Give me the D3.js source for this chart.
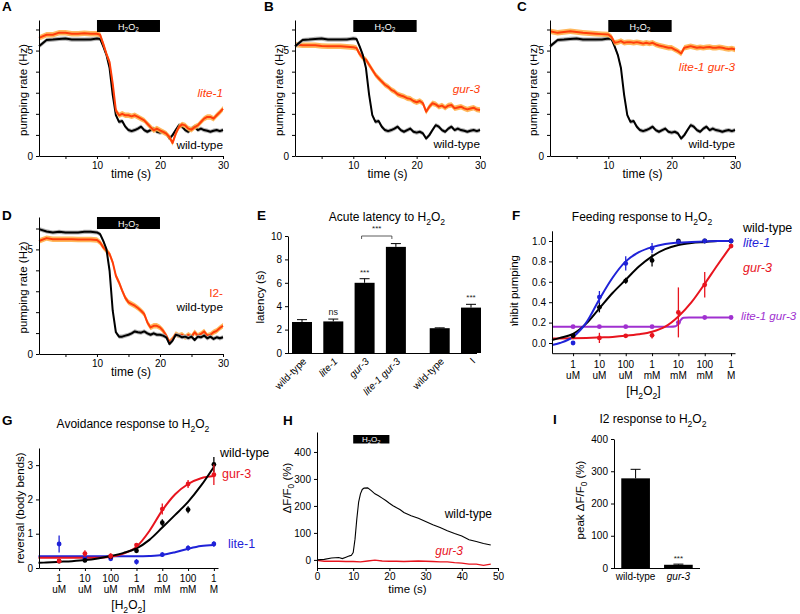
<!DOCTYPE html>
<html><head><meta charset="utf-8">
<script src="https://cdn.jsdelivr.net/npm/d3@7"></script>
<style>body{margin:0;background:#fff}svg{display:block}</style>
</head><body><svg id="c" width="800" height="614"></svg>
<script>
// ---------------- DATA ----------------
// Panels A-D: pumping-rate traces (Hz) sampled at these times (s)
const TRACE_T = [0.8,2,3,4,5,6,7,8,9,10,10.5,11,11.5,12,12.5,13,13.5,14,14.5,15,15.5,16,16.5,17,17.5,18,18.5,19,19.5,20,20.5,21,21.5,22,22.5,23,23.5,24,24.5,25,25.5,26,26.5,27,27.5,28,28.5,29,29.5,30];
const HZ_WT = [5.2,5.5,5.52,5.55,5.57,5.52,5.52,5.52,5.53,
  5.57,5.55,5.2,4.8,4.17,2.9,1.94,1.62,1.66,1.39,
  1.23,1.18,1.23,1.3,1.39,1.23,1.15,1.23,1.3,1.15,
  1.11,1.15,1.07,0.83,0.99,1.23,1.46,1.39,1.23,1.15,
  1.3,1.39,1.23,1.3,1.23,1.2,1.15,1.2,1.23,1.18,1.23];
const HZ_LITE1 = [5.6,5.75,5.75,5.85,5.85,5.8,5.8,5.82,5.8,
  5.8,5.75,5.32,4.85,4.45,3.43,2.16,1.93,2.0,1.93,
  1.93,1.88,1.93,1.85,1.77,1.69,1.53,1.37,1.22,1.3,
  1.22,1.14,1.06,0.9,0.62,1.06,1.37,1.5,1.45,1.3,
  1.25,1.37,1.45,1.61,1.77,1.85,1.85,1.77,1.93,2.08,2.24];
const HZ_GUR3 = [5.29,5.25,5.25,5.25,5.22,5.2,5.2,5.2,5.18,
  5.16,5.12,4.84,4.65,4.57,4.33,4.09,3.85,3.69,3.53,
  3.38,3.28,3.14,3.06,2.93,2.87,2.82,2.74,2.71,2.61,
  2.55,2.61,2.5,2.1,2.34,2.5,2.45,2.34,2.39,2.29,
  2.39,2.42,2.26,2.3,2.34,2.26,2.21,2.25,2.29,2.2,2.18];
const HZ_LITE1GUR3 = [5.92,5.84,5.88,5.92,5.88,5.84,5.82,5.8,5.78,
  5.76,5.65,5.37,5.4,5.45,5.37,5.4,5.4,5.37,5.4,
  5.37,5.33,5.37,5.33,5.37,5.29,5.24,5.21,5.17,5.13,
  5.13,5.05,4.97,4.86,5.13,5.17,5.21,5.17,5.13,5.16,
  5.13,5.16,5.17,5.13,5.13,5.16,5.13,5.1,5.08,5.1,5.05];
const HZ_WT_D = [5.97,5.86,5.81,5.84,5.81,5.81,5.81,5.84,5.84,
  5.81,5.73,5.41,5.02,3.98,2.07,1.04,0.83,0.83,0.88,
  0.92,0.99,1.08,1.04,1.02,1.08,0.99,0.92,0.99,0.92,
  0.92,0.88,0.8,0.48,0.64,0.92,0.88,0.8,0.83,0.76,
  0.83,0.67,0.83,0.8,0.88,0.75,0.83,0.72,0.8,0.75,0.8];
const HZ_I2 = [5.4,5.54,5.49,5.49,5.49,5.49,5.47,5.47,5.47,
  5.45,5.33,5.1,4.94,4.78,4.38,3.74,3.42,3.03,2.68,
  2.47,2.39,2.31,2.2,2.07,1.91,1.51,1.27,1.35,1.35,
  1.27,1.11,0.88,0.56,0.72,0.96,0.88,0.92,0.8,0.92,
  0.83,1.04,0.88,0.96,1.08,0.88,0.92,1.04,1.11,1.24,1.35];
const SEM_BLACK = 0.1, SEM_RED = 0.13;
const HZ_TICKS = [0,1,2,3,4,5,6], HZ_LABELED = [0,5];
const TIME_TICKS = [5,10,15,20,25,30], TIME_LABELED = [10,20,30];
const STIM = [10,20];

// Panel E: acute latency (s)
const LAT_CATS = ["wild-type","lite-1","gur-3","lite-1 gur-3","wild-type","I"];
const LAT_ITALIC = [false,true,true,true,false,false];
const LAT_GROUP = [0,0,0,0,1,1];
const LAT_VAL = [2.65,2.7,6.0,9.07,2.12,3.88];
const LAT_ERR = [0.2,0.2,0.35,0.28,0.03,0.28];
const LAT_SIG = ["","ns","***","","","***"];
const LAT_TICKS = [0,2,4,6,8,10];

// Panels F, G: concentration axis (log10 M)
const CONC_LOG = [-6,-5,-4,-3,-2,-1,0];
const CONC_NUM = ["1","10","100","1","10","100","1"];
const CONC_UNIT = ["uM","uM","uM","mM","mM","mM","M"];

// Panel F: feeding response (fraction inhibited)
const FEED_WT = [0.07,0.35,0.61,0.81,1.0,1.0,1.0];
const FEED_WT_ERR = [0.01,0.05,0.03,0.06,0.01,0.01,0.01];
const FEED_LITE1 = [0.0,0.45,0.78,0.93,0.99,1.0,1.0];
const FEED_LITE1_ERR = [0.01,0.06,0.07,0.05,0.01,0.01,0.01];
const FEED_GUR3 = [0.06,0.05,0.07,0.075,0.30,0.57,0.95];
const FEED_GUR3_ERR = [0.01,0.05,0.01,0.03,0.245,0.125,0.01];
const FEED_LG = [0.16,0.16,0.16,0.16,0.2,0.25,0.25];
const FEED_LG_ERR = [0.01,0.01,0.01,0.01,0.01,0.01,0.01];
const FIT_X = [-6.8,-6.5,-6,-5.5,-5,-4.5,-4,-3.5,-3,-2.5,-2,-1.5,-1,-0.5,0];
const FEED_FIT_WT = [0.03,0.05,0.09,0.19,0.34,0.49,0.62,0.75,0.85,0.92,0.96,0.98,0.99,1.0,1.0];
const FEED_FIT_LITE1 = [-0.02,0.0,0.06,0.2,0.43,0.64,0.8,0.89,0.94,0.97,0.985,0.99,0.995,1.0,1.0];
const FEED_FIT_GUR3 = [0.045,0.045,0.047,0.05,0.055,0.06,0.07,0.085,0.11,0.16,0.26,0.4,0.58,0.77,0.95];
const FEED_FIT_LG_X = [-6.8,-2.3,-2.1,-2.0,-1.95,-1.9,-1.8,-1.6,0];
const FEED_FIT_LG = [0.16,0.16,0.165,0.19,0.21,0.23,0.248,0.25,0.25];
const FEED_TICKS = [0,0.2,0.4,0.6,0.8,1.0];

// Panel G: avoidance (body bends)
const AVOID_WT = [0.2,0.22,0.33,0.5,1.32,1.7,3.02];
const AVOID_WT_ERR = [0.03,0.05,0.05,0.06,0.1,0.1,0.22];
const AVOID_GUR3 = [0.2,0.42,0.35,0.67,1.72,2.45,2.72];
const AVOID_GUR3_ERR = [0.04,0.1,0.08,0.06,0.16,0.12,0.3];
const AVOID_LITE1 = [0.7,0.28,0.27,0.18,0.39,0.58,0.7];
const AVOID_LITE1_ERR = [0.25,0.05,0.06,0.08,0.07,0.08,0.08];
const AVOID_FIT_WT = [0.15,0.16,0.18,0.2,0.23,0.28,0.35,0.44,0.57,0.82,1.18,1.55,1.93,2.4,2.95];
const AVOID_FIT_GUR3 = [0.3,0.3,0.3,0.3,0.3,0.3,0.33,0.42,0.62,1.08,1.68,2.15,2.45,2.62,2.68];
const AVOID_FIT_LITE1 = [0.34,0.34,0.34,0.34,0.34,0.34,0.34,0.34,0.34,0.35,0.38,0.46,0.56,0.64,0.67];
const AVOID_TICKS = [0,1,2,3];

// Panel H: I2 calcium imaging (dF/F0 %)
const H_T_WT = [0,2,4,6,7,8,9,9.5,10,10.5,11,11.5,12,12.5,13,14,15,16,17,18,19,20,21,22,23,24,26,28,30,32,34,36,38,40,42,44,46,48];
const H_WT = [0,2,7,9,5,10,15,17,27,77,152,214,245,261,266,267,257,245,238,229,220,210,201,193,186,176,164,154,142,130,120,108,98,89,75,68,61,55];
const H_T_GUR3 = [0,2,4,6,8,10,12,14,16,18,20,22,24,26,28,30,32,34,36,38,40,42,44,46,48];
const H_GUR3 = [-2,-5,-5,-5,-6,-6,-7,-4,-1,-4,-5,-5,-6,-5,-4,-5,-6,-7,-7,-10,-12,-16,-16,-20,-16];
const H_YTICKS = [0,100,200,300,400];
const H_XTICKS = [0,10,20,30,40,50];

// Panel I: peak response
const PEAK_CATS = ["wild-type","gur-3"];
const PEAK_ITALIC = [false,true];
const PEAK_VAL = [278,10];
const PEAK_ERR = [28,2];
const PEAK_SIG = ["","***"];

// ---------------- DRAWING ----------------
const FONT = '"Liberation Sans", Arial, Helvetica, sans-serif';
const RED_T = "#ff3d0a", RED_BAND = "#ffb04a", GREY_BAND = "#a8a8a8";
const BLUE = "#1f22d8", RED = "#e8141e", PURPLE = "#a030d0";
const svg = d3.select("#c").attr("font-family", FONT);
const defs = svg.append("defs");
defs.append("clipPath").attr("id","clipC").append("rect").attr("x",530.5).attr("y",0).attr("width",270).attr("height",200);
defs.append("clipPath").attr("id","clipF").append("rect").attr("x",500).attr("y",200).attr("width",40).attr("height",126);

function rich(t, s, fs){
  const parts = s.split(/(_.)/).filter(p=>p);
  let sh = false;
  parts.forEach(p=>{
    if (p[0]==="_"){ t.append("tspan").attr("font-size",fs*0.72).attr("dy", sh?0:fs*0.3).text(p[1]); sh=true; }
    else { t.append("tspan").attr("dy", sh? -fs*0.3:0).text(p); sh=false; }
  });
}
function txt(g,x,y,s,o={}){
  const fs = o.fs||11.5;
  const t = g.append("text").attr("x",x).attr("y",y).attr("font-size",fs)
    .attr("fill",o.fill||"#000").attr("text-anchor",o.anchor||"start");
  if (o.italic) t.attr("font-style","italic");
  if (o.bold) t.attr("font-weight","bold");
  if (o.rotate) t.attr("transform",`rotate(${o.rotate},${x},${y})`);
  rich(t,s,fs);
  return t;
}
function styleAxis(a){
  a.attr("font-family",FONT).attr("font-size",10);
  a.selectAll("path.domain").attr("stroke","#000").attr("stroke-width",1);
  a.selectAll(".tick line").attr("stroke","#000");
  a.selectAll(".tick text").attr("fill","#000");
  return a;
}
function letter(x,y,s){ txt(svg,x,y,s,{fs:13.5,bold:true}); }

// ---- time-series panels ----
function tsPanel(o){
  const x = d3.scaleLinear().domain([0.8,30]).range(o.xr);
  const y = d3.scaleLinear().domain([0,o.ymax]).range(o.yr);
  const g = svg.append("g");
  o.traces.forEach(tr=>{
    g.append("path").datum(tr.v).attr("fill",tr.band).attr("opacity",0.9)
      .attr("d", d3.area().x((d,i)=>x(TRACE_T[i])).y0(d=>y(d-tr.sem)).y1(d=>y(d+tr.sem)));
    g.append("path").datum(tr.v).attr("fill","none").attr("stroke",tr.color)
      .attr("stroke-width",2).attr("stroke-linejoin","round")
      .attr("d", d3.line().x((d,i)=>x(TRACE_T[i])).y(d=>y(d)));
  });
  styleAxis(g.append("g").attr("transform",`translate(${o.xr[0]},0)`)
    .call(d3.axisLeft(y).tickValues(HZ_TICKS).tickFormat(d=>HZ_LABELED.includes(d)?d:"").tickSize(3).tickSizeOuter(0)));
  styleAxis(g.append("g").attr("transform",`translate(0,${o.yr[0]})`)
    .call(d3.axisBottom(x).tickValues(TIME_TICKS).tickFormat(d=>TIME_LABELED.includes(d)?d:"").tickSize(3).tickSizeOuter(0)));
  // stimulus bar
  g.append("rect").attr("x",x(STIM[0])).attr("width",x(STIM[1])-x(STIM[0]))
    .attr("y",o.yr[1]).attr("height",12).attr("fill","#000");
  txt(g,(x(STIM[0])+x(STIM[1]))/2,o.yr[1]+9.5,"H_2O_2",{fs:9,fill:"#fff",anchor:"middle"});
  const holder = g.append("g");
  if (o.clip) holder.attr("clip-path",`url(#${o.clip})`);
  txt(holder,o.ylabX,(o.yr[0]+o.yr[1])/2+2,"pumping rate (Hz)",{rotate:-90,anchor:"middle"});
  txt(g,(o.xr[0]+o.xr[1])/2,o.yr[0]+22,"time (s)",{anchor:"middle",fs:12});
  o.labels.forEach(l=>txt(g,o.xr[1],l.y,l.s,{anchor:"end",fill:l.c,italic:l.i,fs:11.8}));
}
const black = v=>({v,color:"#000",band:GREY_BAND,sem:SEM_BLACK});
const redT = v=>({v,color:RED_T,band:RED_BAND,sem:SEM_RED});

tsPanel({xr:[39,223],yr:[156,20],ymax:6.45,ylabX:27,traces:[black(HZ_WT),redT(HZ_LITE1)],
  labels:[{s:"lite-1",y:97,c:RED_T,i:true},{s:"wild-type",y:149,c:"#000"}]});
tsPanel({xr:[295,480],yr:[156,20],ymax:6.45,ylabX:283,traces:[redT(HZ_GUR3),black(HZ_WT)],
  labels:[{s:"gur-3",y:93,c:RED_T,i:true},{s:"wild-type",y:148,c:"#000"}]});
tsPanel({xr:[550,735],yr:[156,20],ymax:6.45,ylabX:537,clip:"clipC",traces:[black(HZ_WT),redT(HZ_LITE1GUR3)],
  labels:[{s:"lite-1 gur-3",y:71,c:RED_T,i:true},{s:"wild-type",y:148,c:"#000"}]});
tsPanel({xr:[39,223],yr:[354,217],ymax:6.55,ylabX:27,traces:[redT(HZ_I2),black(HZ_WT_D)],
  labels:[{s:"I2-",y:297,c:RED_T,i:false},{s:"wild-type",y:311,c:"#000"}]});
letter(2,11,"A"); letter(264,11,"B"); letter(517,11,"C"); letter(2,220,"D");

// ---- Panel E ----
(function(){
  const g = svg.append("g");
  const x = d3.scaleLinear().domain([0,5.4]).range([302,471]);
  const y = d3.scaleLinear().domain([0,10]).range([353,236]);
  const cx = i=>x(i+LAT_GROUP[i]*0.4);
  LAT_VAL.forEach((v,i)=>{
    const c = cx(i);
    g.append("rect").attr("x",c-10).attr("width",20).attr("y",y(v)).attr("height",y(0)-y(v)).attr("fill","#000");
    g.append("line").attr("x1",c).attr("x2",c).attr("y1",y(v)).attr("y2",y(v+LAT_ERR[i])).attr("stroke","#000");
    g.append("line").attr("x1",c-5).attr("x2",c+5).attr("y1",y(v+LAT_ERR[i])).attr("y2",y(v+LAT_ERR[i])).attr("stroke","#000");
    if (LAT_SIG[i]) txt(g,c,y(v+LAT_ERR[i])-4,LAT_SIG[i],{fs:LAT_SIG[i]==="ns"?9:8,anchor:"middle",fill:"#222"});
    txt(g,c+5,362,LAT_CATS[i],{fs:10,anchor:"end",rotate:-45,italic:LAT_ITALIC[i]});
  });
  styleAxis(g.append("g").attr("transform","translate(288,0)")
    .call(d3.axisLeft(y).tickValues(LAT_TICKS).tickSize(3).tickSizeOuter(0)));
  g.append("line").attr("x1",288).attr("x2",477).attr("y1",353.5).attr("y2",353.5).attr("stroke","#000");
  // bracket between gur-3 and lite-1 gur-3
  const b1 = cx(2)-3, b2 = cx(3)-4, by = y(10);
  g.append("path").attr("d",`M${b1},${by+3}V${by}H${b2}V${by+3}`).attr("fill","none").attr("stroke","#333").attr("stroke-width",0.8);
  txt(g,(b1+b2)/2,by-5,"***",{fs:8,anchor:"middle",fill:"#222"});
  txt(g,264,297,"latency (s)",{rotate:-90,anchor:"middle"});
  txt(g,387,221,"Acute latency to H_2O_2",{anchor:"middle",fs:12});
  letter(257,220,"E");
})();

// ---- dose-response helper ----
function dosePanel(o){
  const g = svg.append("g");
  const x = d3.scaleLinear().domain(o.xdom).range(o.xr);
  const y = d3.scaleLinear().domain(o.ydom).range(o.yr);
  const line = d3.line().curve(d3.curveMonotoneX);
  o.fits.forEach(f=>{
    g.append("path").attr("d",line(f.v.map((v,i)=>[x(f.x[i]),y(v)])))
      .attr("fill","none").attr("stroke",f.c).attr("stroke-width",2);
  });
  o.points.forEach(p=>{
    p.v.forEach((v,i)=>{
      const px = x(CONC_LOG[i]);
      g.append("line").attr("x1",px).attr("x2",px).attr("y1",y(v-p.e[i])).attr("y2",y(v+p.e[i]))
        .attr("stroke",p.c).attr("stroke-width",1.3);
      g.append("circle").attr("cx",px).attr("cy",y(v)).attr("r",2.4).attr("fill",p.c);
    });
  });
  styleAxis(g.append("g").attr("transform",`translate(${o.xr[0]},0)`)
    .call(d3.axisLeft(y).tickValues(o.yticks).tickFormat(o.yfmt).tickSize(3).tickSizeOuter(0)));
  styleAxis(g.append("g").attr("transform",`translate(0,${o.yr[0]})`)
    .call(d3.axisBottom(x).tickValues(CONC_LOG).tickFormat("").tickSize(3).tickSizeOuter(0)));
  CONC_LOG.forEach((c,i)=>{
    txt(g,x(c),o.yr[0]+o.lab1,CONC_NUM[i],{fs:10,anchor:"middle"});
    txt(g,x(c),o.yr[0]+o.lab2,CONC_UNIT[i],{fs:10,anchor:"middle"});
  });
  txt(g,(o.xr[0]+o.xr[1])/2,o.yr[0]+o.lab3,"[H_2O_2]",{anchor:"middle",fs:12});
  o.labels.forEach(l=>txt(g,l.x,l.y,l.s,{fill:l.c,italic:l.i,fs:l.fs||12.5}));
  return g;
}

// ---- Panel F ----
(function(){
  const g = dosePanel({xdom:[-6.8,0.15],xr:[552,735],ydom:[-0.1,1.1],yr:[353.2,230.8],
    yticks:FEED_TICKS,yfmt:d3.format(".1f"),lab1:15,lab2:26,lab3:42,
    fits:[{x:FEED_FIT_LG_X,v:FEED_FIT_LG,c:PURPLE},{x:FIT_X,v:FEED_FIT_GUR3,c:RED},
          {x:FIT_X,v:FEED_FIT_WT,c:"#000"},{x:FIT_X,v:FEED_FIT_LITE1,c:BLUE}],
    points:[{v:FEED_LG,e:FEED_LG_ERR,c:PURPLE},{v:FEED_GUR3,e:FEED_GUR3_ERR,c:RED},
            {v:FEED_WT,e:FEED_WT_ERR,c:"#000"},{v:FEED_LITE1,e:FEED_LITE1_ERR,c:BLUE}],
    labels:[{s:"wild-type",x:743,y:232,c:"#000"},{s:"lite-1",x:743,y:247,c:BLUE,i:true},
            {s:"gur-3",x:743,y:272,c:RED,i:true},{s:"lite-1 gur-3",x:741,y:320,c:PURPLE,i:true,fs:11.6}]});
  txt(g,642,221,"Feeding response to H_2O_2",{anchor:"middle",fs:12});
  const holder = g.append("g").attr("clip-path","url(#clipF)");
  txt(holder,518,255,"inhibit pumping",{rotate:-90,anchor:"end"});
  letter(512,220,"F");
})();

// ---- Panel G ----
(function(){
  const g = dosePanel({xdom:[-6.78,0.16],xr:[39,218],ydom:[0,3.5],yr:[568,448],
    yticks:AVOID_TICKS,yfmt:d3.format("d"),lab1:14,lab2:25,lab3:41,
    fits:[{x:FIT_X,v:AVOID_FIT_LITE1,c:BLUE},{x:FIT_X,v:AVOID_FIT_GUR3,c:RED},{x:FIT_X,v:AVOID_FIT_WT,c:"#000"}],
    points:[{v:AVOID_LITE1,e:AVOID_LITE1_ERR,c:BLUE},{v:AVOID_WT,e:AVOID_WT_ERR,c:"#000"},{v:AVOID_GUR3,e:AVOID_GUR3_ERR,c:RED}],
    labels:[{s:"wild-type",x:220,y:457,c:"#000"},{s:"gur-3",x:222,y:478,c:RED},{s:"lite-1",x:228,y:548,c:BLUE}]});
  txt(g,133,428,"Avoidance response to H_2O_2",{anchor:"middle",fs:12});
  txt(g,24,508,"reversal (body bends)",{rotate:-90,anchor:"middle"});
  letter(2,425,"G");
})();

// ---- Panel H ----
(function(){
  const g = svg.append("g");
  const x = d3.scaleLinear().domain([0,50]).range([317,498]);
  const y = d3.scaleLinear().domain([-30,474]).range([568,432]);
  g.append("path").attr("d",d3.line()(H_GUR3.map((v,i)=>[x(H_T_GUR3[i]),y(v)])))
    .attr("fill","none").attr("stroke",RED).attr("stroke-width",1.3);
  g.append("path").attr("d",d3.line()(H_WT.map((v,i)=>[x(H_T_WT[i]),y(v)])))
    .attr("fill","none").attr("stroke","#000").attr("stroke-width",1.1);
  styleAxis(g.append("g").attr("transform","translate(317,0)")
    .call(d3.axisLeft(y).tickValues(H_YTICKS).tickSize(3).tickSizeOuter(0)));
  styleAxis(g.append("g").attr("transform","translate(0,568)")
    .call(d3.axisBottom(x).tickValues(H_XTICKS).tickSize(3).tickPadding(1.5).tickSizeOuter(0)));
  g.append("rect").attr("x",x(STIM[0])).attr("width",x(STIM[1])-x(STIM[0])).attr("y",435).attr("height",8.5).attr("fill","#000");
  txt(g,(x(STIM[0])+x(STIM[1]))/2,442,"H_2O_2",{fs:8,fill:"#fff",anchor:"middle"});
  txt(g,(317+498)/2,593,"time (s)",{anchor:"middle",fs:11.5});
  txt(g,291,488,"ΔF/F_0 (%)",{rotate:-90,anchor:"middle"});
  txt(g,492,518,"wild-type",{anchor:"end",fs:12});
  txt(g,463,555,"gur-3",{anchor:"end",fs:12,italic:true,fill:RED});
  letter(283,425,"H");
})();

// ---- Panel I ----
(function(){
  const g = svg.append("g");
  const x = d3.scaleBand().domain(PEAK_CATS).range([614,700]).paddingInner(0.33).paddingOuter(0.17);
  const y = d3.scaleLinear().domain([0,400]).range([568,439]);
  PEAK_VAL.forEach((v,i)=>{
    const c = PEAK_CATS[i], cx = x(c)+x.bandwidth()/2;
    g.append("rect").attr("x",x(c)).attr("width",x.bandwidth()).attr("y",y(v)).attr("height",y(0)-y(v)).attr("fill","#000");
    g.append("line").attr("x1",cx).attr("x2",cx).attr("y1",y(v)).attr("y2",y(v+PEAK_ERR[i])).attr("stroke","#000");
    g.append("line").attr("x1",cx-5).attr("x2",cx+5).attr("y1",y(v+PEAK_ERR[i])).attr("y2",y(v+PEAK_ERR[i])).attr("stroke","#000");
    if (PEAK_SIG[i]) txt(g,cx,y(v+PEAK_ERR[i])-3,PEAK_SIG[i],{fs:8,anchor:"middle",fill:"#222"});
    txt(g,cx,580,c,{fs:10,anchor:"middle",italic:PEAK_ITALIC[i]});
  });
  styleAxis(g.append("g").attr("transform","translate(614,0)")
    .call(d3.axisLeft(y).tickValues(H_YTICKS).tickSize(3).tickSizeOuter(0)));
  g.append("line").attr("x1",614).attr("x2",700).attr("y1",568.5).attr("y2",568.5).attr("stroke","#000");
  txt(g,653,423,"I2 response to H_2O_2",{anchor:"middle",fs:12});
  txt(g,584,500,"peak ΔF/F_0 (%)",{rotate:-90,anchor:"middle"});
  letter(553,424,"I");
})();
</script></body></html>
